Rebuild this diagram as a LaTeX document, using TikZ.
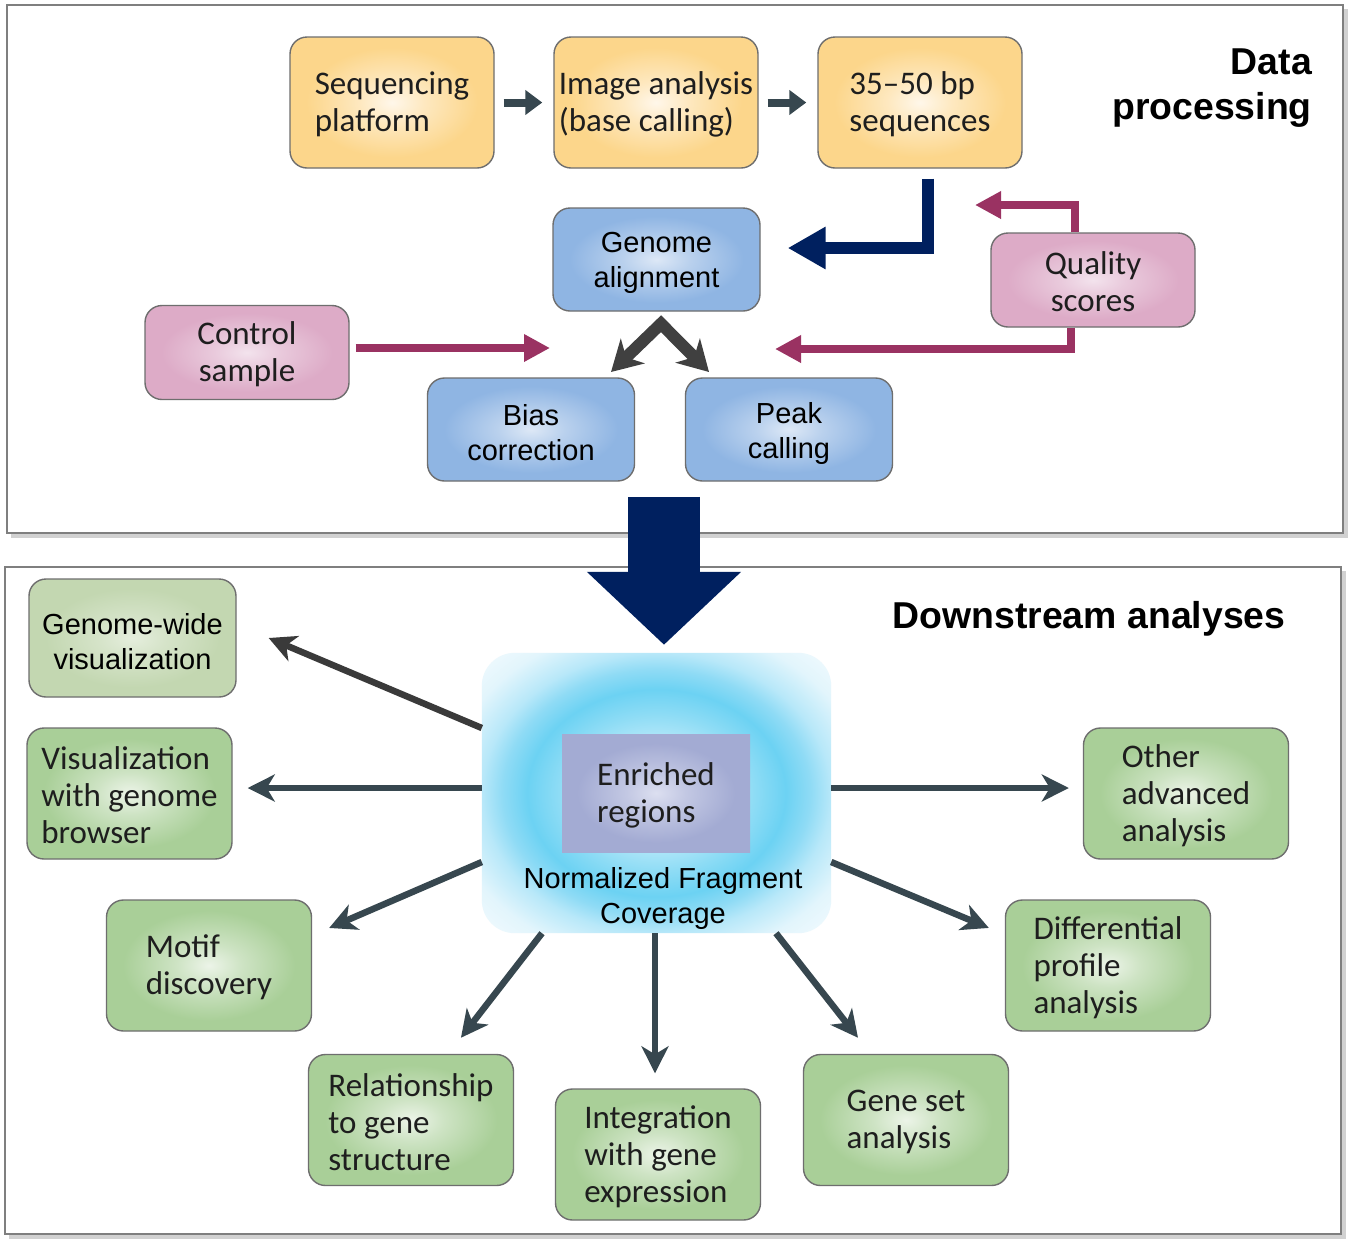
\documentclass[tikz,border=0pt]{standalone}
\usepackage{fontspec}
\setmainfont{Liberation Sans}
\newfontfamily\thinf{Carlito}
\usetikzlibrary{arrows.meta,calc}

\definecolor{boxline}{HTML}{6E6E6E}
\definecolor{txt}{HTML}{1E1E1E}
\definecolor{yin}{HTML}{FFF7EA}
\definecolor{yout}{HTML}{FCD68B}
\definecolor{bin}{HTML}{DDE8F6}
\definecolor{bout}{HTML}{8FB5E3}
\definecolor{pin}{HTML}{F3E3ED}
\definecolor{pout}{HTML}{DDABC7}
\definecolor{gin}{HTML}{ECF4E8}
\definecolor{gout}{HTML}{A9CF98}
\definecolor{gwin}{HTML}{E5EEDD}
\definecolor{gwout}{HTML}{C3D7B1}
\definecolor{ein}{HTML}{DCDFF0}
\definecolor{eout}{HTML}{A3ABD3}
\definecolor{slate}{HTML}{37474F}
\definecolor{dkarr}{HTML}{3A3A3A}
\definecolor{dblarr}{HTML}{404040}
\definecolor{plum}{HTML}{9A3262}
\definecolor{navy}{HTML}{00205F}
\definecolor{panelline}{HTML}{7F7F7F}
\definecolor{c0}{HTML}{D5F2FC}
\definecolor{c1}{HTML}{BFEBFA}
\definecolor{c2}{HTML}{8EDCF5}
\definecolor{c3}{HTML}{6CD2F3}
\definecolor{c4}{HTML}{8FDBF5}
\definecolor{c5}{HTML}{B8E8F9}
\definecolor{c6}{HTML}{E2F5FC}
\definecolor{c7}{HTML}{F4FBFE}

\newcommand\glowdef[3]{%
  \pgfdeclareradialshading{#1}{\pgfpoint{0bp}{0bp}}{color(0bp)=(#2); color(8bp)=(#2!55!#3); color(21bp)=(#3); color(50bp)=(#3)}}
\glowdef{yglow}{yin}{yout}
\glowdef{bglow}{bin}{bout}
\glowdef{pglow}{pin}{pout}
\glowdef{gglow}{gin}{gout}
\glowdef{gwglow}{gwin}{gwout}
\glowdef{eglow}{ein}{eout}
\pgfdeclareradialshading{cglow}{\pgfpoint{0bp}{0bp}}{color(0bp)=(c0); color(8bp)=(c1); color(14bp)=(c2); color(18.5bp)=(c3); color(22bp)=(c4); color(25bp)=(c5); color(30bp)=(c6); color(36bp)=(c7); color(50bp)=(c7)}

\begin{document}
\begin{tikzpicture}[x=1pt,y=-1pt,
  thin/.style={font=\thinf\fontsize{33}{37}\selectfont, text=txt, align=left, inner sep=0pt, yshift=-2pt},
  thinc/.style={thin, align=center},
  arial/.style={font=\fontsize{29}{35}\selectfont, text=black, align=center, inner sep=0pt, yshift=-3.5pt},
  box/.style={shade, draw=boxline, line width=1.4pt, rounded corners=17pt, inner sep=0pt},
  ybox/.style={box, shading=yglow, minimum width=204pt, minimum height=131pt},
  bbox/.style={box, shading=bglow, minimum width=207pt, minimum height=103pt},
  pbox/.style={box, shading=pglow, minimum width=204pt, minimum height=94pt},
  gbox/.style={box, shading=gglow, minimum width=205pt, minimum height=131pt},
  panel/.style={draw=panelline, line width=2pt, fill=white, inner sep=0pt},
  smallarr/.style={draw=slate, line width=8pt, -{Triangle[length=17pt,width=24pt]}},
  dsarr/.style={draw=slate, line width=6.5pt, -{Stealth[length=27pt,width=27pt,inset=8pt]}},
  plumarr/.style={draw=plum, line width=8pt, -{Triangle[length=26pt,width=26pt]}},
  navyarr/.style={draw=navy, line width=12pt, -{Triangle[length=38pt,width=40pt]}},
  dblarrow/.style={draw=dblarr, line width=12pt, line join=miter,
     {Stealth[length=30pt,width=34pt,inset=9pt]}-{Stealth[length=30pt,width=34pt,inset=9pt]}},
  bigarr/.style={draw=navy, line width=72pt, -{Triangle[length=73pt,width=150pt]}},
  title/.style={font=\bfseries\fontsize{37.4}{45}\selectfont, inner sep=0pt}
]
\useasboundingbox (0,0) rectangle (1357,1248);
\fill[white] (0,0) rectangle (1357,1248);

% panels with shadows
\fill[black!18] (11,9) rectangle (1348,538);
\fill[black!18] (9,571) rectangle (1346,1239);
\node[panel, minimum width=1336pt, minimum height=528pt] (tp) at (675,269) {};
\node[panel, minimum width=1336pt, minimum height=667pt] (bp0) at (673,900.5) {};

% titles
\node[title, align=right, anchor=east] (dp) at (1312,88.5) {Data\\processing};
\node[title] (ds) at (1089,619) {Downstream analyses};

% top boxes
\node[ybox] (seq) at (392,102.5) {};
\node[thin] (seqT) at (seq) {Sequencing\\platform};
\node[ybox] (img) at (656,102.5) {};
\node[thin] (imgT) at (img) {Image analysis\\(base calling)};
\node[ybox] (bps) at (920,102.5) {};
\node[thin] (bpsT) at (bps) {35–50 bp\\sequences};
\node[bbox] (ga) at (656.5,259.5) {};
\node[arial] (gaT) at (ga) {Genome\\alignment};
\node[bbox] (bias) at (531,429.5) {};
\node[arial] (biasT) at (bias) {Bias\\correction};
\node[bbox] (peak) at (789,429.5) {};
\node[arial] (peakT) at (peak) {Peak\\calling};
\node[pbox] (ctrl) at (247,352.5) {};
\node[thinc] (ctrlT) at (ctrl) {Control\\sample};
\node[pbox] (qs) at (1093,280) {};
\node[thinc] (qsT) at (qs) {Quality\\scores};

% top connectors
\draw[smallarr, shorten <=9pt, shorten >=11pt] (seq.east) -- (img.west);
\draw[smallarr, shorten <=9pt, shorten >=11pt] (img.east) -- (bps.west);
\draw[navyarr] ([xshift=8pt,yshift=-10pt]bps.south) |- ([xshift=27pt,yshift=11.5pt]ga.east);
\coordinate (qtip) at (975,205);
\coordinate (ptip) at (775,349);
\coordinate (ctip) at (550,348);
\draw[plumarr] ([xshift=-18pt]qs.north) |- (qtip);
\draw[plumarr] ([xshift=-22pt]qs.south) |- (ptip);
\draw[plumarr] ([shift={(6pt,4.5pt)}]ctrl.east) -- (ctip);
\coordinate (ltip) at (611,372);
\coordinate (rtip) at (709,372);
\draw[dblarrow] (ltip) -- ([shift={(4.5pt,-12pt)}]ga.south) -- (rtip);

% center box
\node[minimum width=349pt, minimum height=280pt, inner sep=0pt] (cbox) at (656.5,793) {};
\shade[shading=cglow, rounded corners=33pt] (cbox.north west) rectangle (cbox.south east);
\node[shade, shading=eglow, minimum width=188pt, minimum height=118pt, inner sep=0pt] (enr) at (656,793) {};
\node[thin] (enrT) at (enr) {Enriched\\regions};
\node[arial] (nfc) at (663,895) {Normalized Fragment\\Coverage};

% green boxes
\node[box, shading=gwglow, minimum width=207pt, minimum height=118pt] (gw) at (132.5,638) {};
\node[arial] (gwT) at (gw) {Genome-wide\\visualization};
\node[gbox] (vb) at (129.5,793.5) {};
\node[thin] (vbT) at (vb) {Visualization\\with genome\\browser};
\node[gbox] (motif) at (209,965.5) {};
\node[thin] (motifT) at (motif) {Motif\\discovery};
\node[gbox] (rel) at (411,1120) {};
\node[thin] (relT) at (rel) {Relationship\\to gene\\structure};
\node[gbox] (int) at (658,1154.5) {};
\node[thin] (intT) at (int) {Integration\\with gene\\expression};
\node[gbox] (gs) at (906,1120) {};
\node[thin] (gsT) at (gs) {Gene set\\analysis};
\node[gbox] (diff) at (1108,965.5) {};
\node[thin] (diffT) at (diff) {Differential\\profile\\analysis};
\node[gbox] (oth) at (1186,793.5) {};
\node[thin] (othT) at (oth) {Other\\advanced\\analysis};

% downstream connectors
\draw[dsarr, draw=dkarr, shorten >=34.7pt] ([yshift=65pt]cbox.west) -- ([yshift=13.5pt]gw.east);
\draw[dsarr, shorten >=15pt] ([yshift=5pt]cbox.west) -- ([yshift=5.5pt]vb.east);
\draw[dsarr, shorten >=18.5pt] ([yshift=-69pt]cbox.west) -- ([yshift=30.2pt]motif.east);
\draw[dsarr, shorten >=20.3pt] ([xshift=-114.5pt]cbox.south) -- ([xshift=37.5pt]rel.north);
\draw[dsarr, shorten >=15pt] ([xshift=-1.5pt]cbox.south) -- ([xshift=-3pt]int.north);
\draw[dsarr, shorten >=20.4pt] ([xshift=119.5pt]cbox.south) -- ([xshift=-35.4pt]gs.north);
\draw[dsarr, shorten >=17.3pt] ([yshift=-69pt]cbox.east) -- ([yshift=30.9pt]diff.west);
\draw[dsarr, shorten >=14pt] ([yshift=5pt]cbox.east) -- ([yshift=5.5pt]oth.west);

% big arrow between panels
\draw[bigarr] ([xshift=7.5pt,yshift=156pt]cbox.north) -- ([xshift=7.5pt,yshift=8pt]cbox.north);
\end{tikzpicture}
\end{document}
